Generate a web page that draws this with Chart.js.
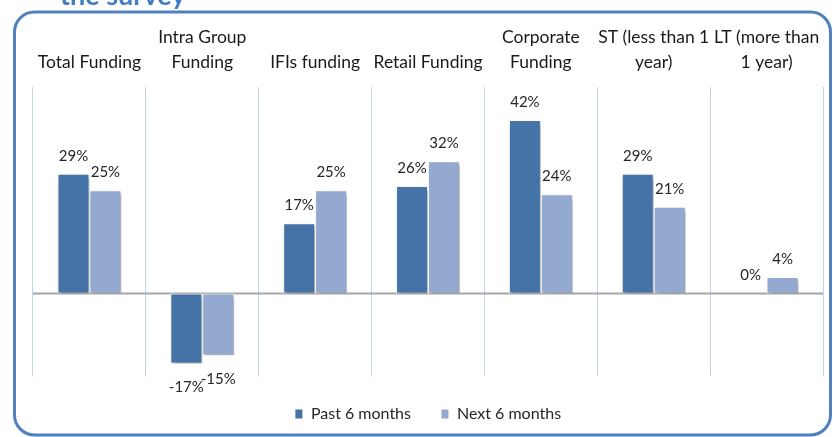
<!DOCTYPE html>
<html>
<head>
<meta charset="utf-8">
<script src="https://cdn.jsdelivr.net/npm/chart.js@4.4.0/dist/chart.umd.min.js"></script>
<style>
html,body{margin:0;padding:0;background:#fff;}
#wrap{position:relative;width:833px;height:437px;}
</style>
</head>
<body>
<div id="wrap"><canvas id="c" width="833" height="437"></canvas></div>
<script>
const categories = [
  ["Total Funding"],
  ["Intra Group", "Funding"],
  ["IFIs funding"],
  ["Retail Funding"],
  ["Corporate", "Funding"],
  ["ST (less than 1", "year)"],
  ["LT (more than", "1 year)"]
];
const seriesNames = ["Past 6 months", "Next 6 months"];
const pastValues = [29, -17, 17, 26, 42, 29, 0];
const nextValues = [25, -15, 25, 32, 24, 21, 4];
const titleText = "the survey";

const FONT = "Lato, 'Open Sans', sans-serif";

const decor = {
  id: 'decor',
  beforeDraw(chart) {
    const ctx = chart.ctx;
    ctx.save();
    ctx.fillStyle = '#fff';
    ctx.fillRect(0, 0, chart.width, chart.height);
    ctx.strokeStyle = '#4F81BD';
    ctx.lineWidth = 3;
    ctx.beginPath();
    ctx.roundRect(14.5, 12, 816, 423, 20);
    ctx.stroke();
    ctx.fillStyle = '#3F7DC4';
    ctx.font = "bold 27px " + FONT;
    ctx.textAlign = 'left';
    ctx.textBaseline = 'alphabetic';
    ctx.fillText(titleText, 60, 5);
    ctx.restore();
  },
  beforeDatasetsDraw(chart) {
    const ctx = chart.ctx;
    const y = chart.scales.y.getPixelForValue(0);
    const a = chart.chartArea;
    ctx.save();
    ctx.strokeStyle = '#A6A6A6';
    ctx.lineWidth = 2;
    ctx.beginPath();
    ctx.moveTo(a.left, y);
    ctx.lineTo(a.right, y);
    ctx.stroke();
    ctx.restore();
    ctx.save();
    ctx.shadowColor = 'rgba(0,0,0,0.35)';
    ctx.shadowBlur = 4;
    ctx.shadowOffsetX = 2;
    ctx.shadowOffsetY = 3;
  },
  afterDatasetsDraw(chart) {
    const ctx = chart.ctx;
    ctx.restore();
    ctx.save();
    ctx.fillStyle = '#262626';
    ctx.font = "15px " + FONT;
    ctx.textAlign = 'center';
    ctx.textBaseline = 'middle';
    chart.data.datasets.forEach((ds, di) => {
      const meta = chart.getDatasetMeta(di);
      meta.data.forEach((bar, i) => {
        const v = ds.data[i];
        const y = v >= 0 ? bar.y - 18 : bar.y + 24;
        ctx.fillText(v + '%', bar.x, y);
      });
    });
    ctx.restore();
  }
};

new Chart(document.getElementById('c'), {
  type: 'bar',
  data: {
    labels: categories,
    datasets: [
      { label: seriesNames[0], data: pastValues, backgroundColor: '#4572A7', borderColor: '#ffffff', borderWidth: 1, borderSkipped: false },
      { label: seriesNames[1], data: nextValues, backgroundColor: '#93A9CF', borderColor: '#ffffff', borderWidth: 1, borderSkipped: false }
    ]
  },
  options: {
    responsive: false,
    animation: false,
    layout: { padding: { left: 33, right: 10, top: 13, bottom: 5 } },
    categoryPercentage: 0.566,
    barPercentage: 1,
    plugins: {
      legend: {
        position: 'bottom',
        labels: {
          boxWidth: 8, boxHeight: 10, padding: 30,
          color: '#262626',
          font: { family: FONT, size: 16 }
        }
      },
      tooltip: { enabled: false },
      title: { display: false }
    },
    scales: {
      x: {
        position: 'top',
        grid: { offset: true, color: '#C5D3EA', lineWidth: 1, drawTicks: false },
        border: { display: false },
        ticks: {
          autoSkip: false, maxRotation: 0, minRotation: 0, padding: 12,
          color: '#1a1a1a',
          font: { family: FONT, size: 17.5, lineHeight: '25px' }
        }
      },
      y: {
        display: false,
        min: -20, max: 50
      }
    }
  },
  plugins: [decor]
});
</script>
</body>
</html>
